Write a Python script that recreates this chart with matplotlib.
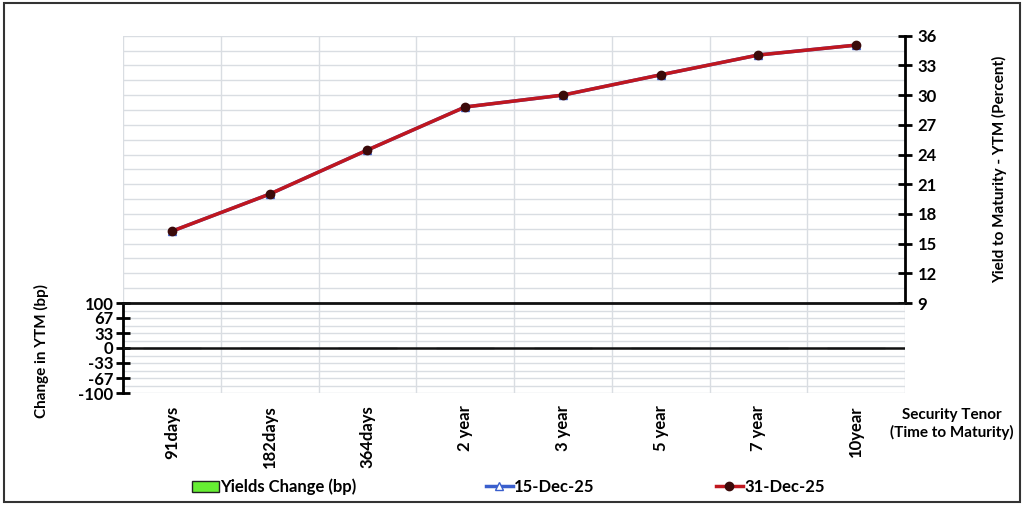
import matplotlib
matplotlib.use("Agg")
import matplotlib.pyplot as plt
from matplotlib.patches import Rectangle
from matplotlib.lines import Line2D
import numpy as np

plt.rcParams['font.family'] = ['Lato', 'DejaVu Sans']
plt.rcParams['font.weight'] = 'bold'

tenors = ["91days", "182days", "364days", "2 year", "3 year", "5 year", "7 year", "10year"]
ytm_15dec = [16.25, 20.0, 24.45, 28.8, 30.0, 32.05, 34.05, 35.05]
ytm_31dec = [16.25, 20.0, 24.45, 28.8, 30.0, 32.05, 34.05, 35.05]
change_bp = [0, 0, 0, 0, 0, 0, 0, 0]

right_ticks = [9, 12, 15, 18, 21, 24, 27, 30, 33, 36]
left_ticks = [-100, -67, -33, 0, 33, 67, 100]

W, H = 1024, 507
fig = plt.figure(figsize=(W / 100, H / 100), dpi=100)

def fx(px):
    return px / W

def fy(py):
    return 1 - py / H

x0, x1 = 123, 905
top_y0, top_y1 = 35.7, 303
bot_y0, bot_y1 = 303, 393

# outer frame
fig.add_artist(Rectangle((fx(4), fy(502)), fx(1020) - fx(4), fy(3) - fy(502),
                         transform=fig.transFigure, fill=False, edgecolor='#333333', lw=1.5))

n = len(tenors)
xs = np.arange(n)
grid_c = '#d9dde2'
fs = 12

# top panel
axt = fig.add_axes([fx(x0), fy(top_y1), fx(x1) - fx(x0), fy(top_y0) - fy(top_y1)])
axt.set_xlim(-0.5, n - 0.5)
axt.set_ylim(9, 36)
for v in np.arange(9, 36.01, 1.5):
    axt.axhline(v, color=grid_c, lw=1, zorder=0)
for b in np.arange(-0.5, n, 1.0):
    axt.axvline(b, color=grid_c, lw=1, zorder=0)
axt.plot(xs, ytm_15dec, color='#3a5fcd', lw=2.5, marker='^', ms=6,
         markerfacecolor='white', zorder=2)
axt.plot(xs, ytm_31dec, color='#c0171f', lw=2.5, marker='o', ms=6,
         markerfacecolor='#3b0a0a', markeredgecolor='#3b0a0a', zorder=3)
for s in ['left', 'top', 'bottom']:
    axt.spines[s].set_visible(False)
axt.spines['right'].set_linewidth(2)
axt.spines['right'].set_color('black')
axt.yaxis.tick_right()
axt.yaxis.set_label_position('right')
axt.set_yticks(right_ticks)
axt.set_yticklabels([str(t) for t in right_ticks], fontsize=fs, fontweight='bold')
axt.tick_params(axis='y', direction='inout', length=10, width=2, pad=4)
axt.set_xticks([])
axt.set_ylabel("Yield to Maturity - YTM (Percent)", fontsize=11, fontweight='bold',
               labelpad=40, rotation=90)

# bottom panel
axb = fig.add_axes([fx(x0), fy(bot_y1), fx(x1) - fx(x0), fy(bot_y0) - fy(bot_y1)])
axb.set_xlim(-0.5, n - 0.5)
axb.set_ylim(-100, 100)
for v in np.arange(-100, 100.1, 100 / 6):
    axb.axhline(v, color=grid_c, lw=1, zorder=0)
for b in np.arange(-0.5, n, 1.0):
    axb.axvline(b, color=grid_c, lw=1, zorder=0)
axb.bar(xs, change_bp, width=0.6, color='#66ee33', edgecolor='#222222', zorder=2)
axb.axhline(0, color='#111111', lw=1.8, zorder=3)
axb.axhline(100, color='#111111', lw=2, zorder=3, clip_on=False)
for s in ['right', 'top', 'bottom']:
    axb.spines[s].set_visible(False)
axb.spines['left'].set_linewidth(2)
axb.spines['left'].set_color('black')
axb.set_yticks(left_ticks)
axb.set_yticklabels([str(t) for t in left_ticks], fontsize=fs, fontweight='bold')
axb.tick_params(axis='y', direction='inout', length=10, width=2, pad=2)
axb.set_xticks(xs)
axb.set_xticklabels(tenors, rotation=90, fontsize=fs, fontweight='bold', va='top')
axb.tick_params(axis='x', length=0, pad=9)
axb.set_ylabel("Change in YTM (bp)", fontsize=11, fontweight='bold')
axb.yaxis.set_label_coords(-0.095, 0.47)

fig.text(fx(952), fy(424), "Security Tenor\n(Time to Maturity)", ha='center', va='center',
         fontsize=11, fontweight='bold', linespacing=1.3)

# legend entries
legend_items = [
    (Rectangle((0, 0), 1, 1, facecolor='#66ee33', edgecolor='#222222'), "Yields Change (bp)", 192),
    (Line2D([], [], color='#3a5fcd', lw=2.5, marker='^', ms=6, markerfacecolor='white'), "15-Dec-25", 486),
    (Line2D([], [], color='#c0171f', lw=2.5, marker='o', ms=6,
            markerfacecolor='#3b0a0a', markeredgecolor='#3b0a0a'), "31-Dec-25", 716),
]
for h, lab, px in legend_items:
    fig.legend([h], [lab], loc='center left', bbox_to_anchor=(fx(px), fy(487)),
               frameon=False, handlelength=1.6, handletextpad=0.1, borderpad=0,
               borderaxespad=0, prop={'weight': 'bold', 'size': fs})

fig.savefig("out.png", dpi=100)
